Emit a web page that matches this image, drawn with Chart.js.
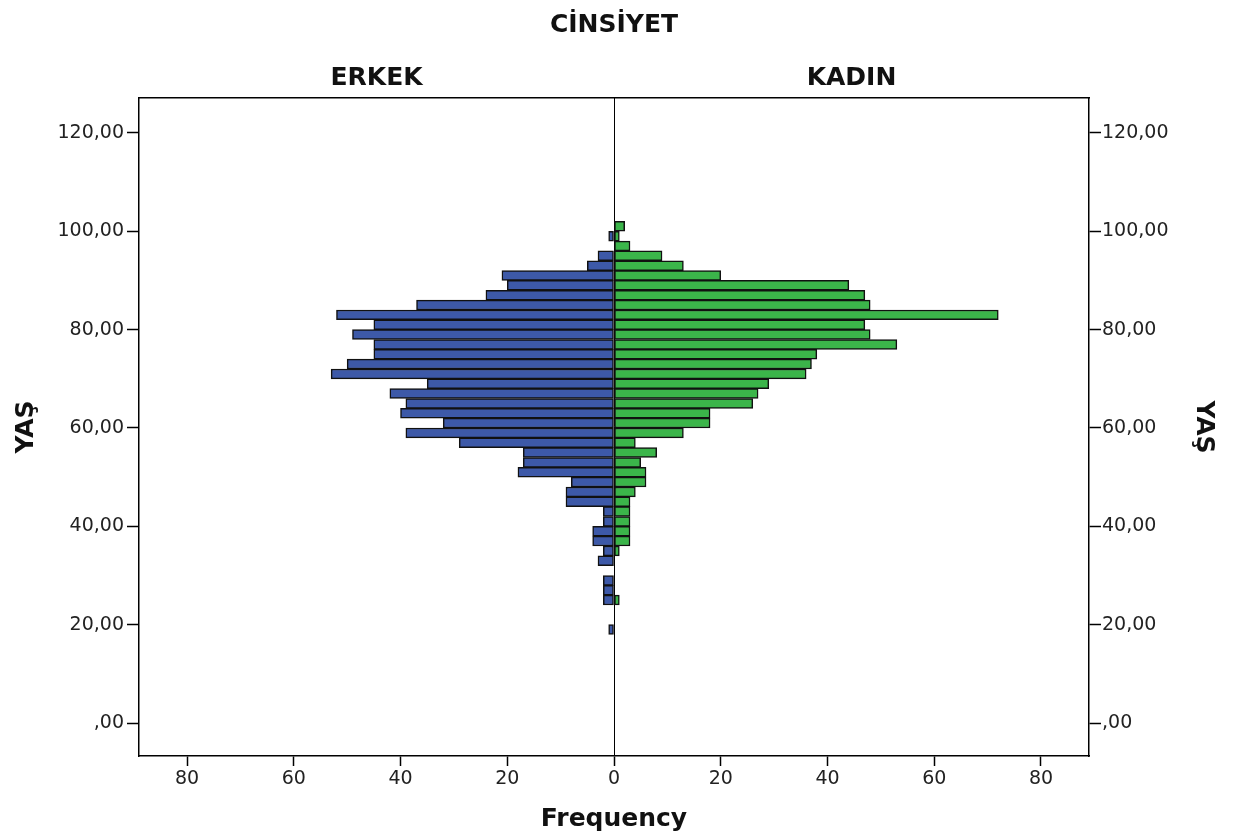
<!DOCTYPE html>
<html lang="tr">
<head>
<meta charset="utf-8">
<title>CİNSİYET - YAŞ</title>
<script src="https://cdn.jsdelivr.net/npm/chart.js@4.4.1/dist/chart.umd.min.js"></script>
<style>
  html, body { margin: 0; padding: 0; background: #fff; }
  #wrap { width: 1236px; height: 838px; }
</style>
</head>
<body>
<div id="wrap"><canvas id="piramit" width="1236" height="838"></canvas></div>
<script>
/* =========================
   VERİ
========================= */
// yaş gruplarının orta noktaları (2 yıllık gruplar, yukarıdan aşağı)
const yasGruplari = [101, 99, 97, 95, 93, 91, 89, 87, 85, 83, 81, 79, 77, 75, 73, 71, 69, 67, 65, 63, 61,
                     59, 57, 55, 53, 51, 49, 47, 45, 43, 41, 39, 37, 35, 33, 31, 29, 27, 25, 23, 21, 19];
const erkek = [0, 1, 0, 3, 5, 21, 20, 24, 37, 52, 45, 49, 45, 45, 50, 53, 35, 42, 39, 40, 32,
               39, 29, 17, 17, 18, 8, 9, 9, 2, 2, 4, 4, 2, 3, 0, 2, 2, 2, 0, 0, 1];
const kadin = [2, 1, 3, 9, 13, 20, 44, 47, 48, 72, 47, 48, 53, 38, 37, 36, 29, 27, 26, 18, 18,
               13, 4, 8, 5, 6, 6, 4, 3, 3, 3, 3, 3, 1, 0, 0, 0, 0, 1, 0, 0, 0];

const frekansTicks = [-80, -60, -40, -20, 0, 20, 40, 60, 80];
const yasTicks = [0, 20, 40, 60, 80, 100, 120];
const panelBasliklari = ["ERKEK", "KADIN"];
const panelMerkezleri = [-44.5, 44.5];

/* =========================
   GÖRÜNÜM
========================= */
const MAVI = "#3d59a8";
const YESIL = "#3bb54a";
const KENAR = "#111";
const yaziTipi = "'DejaVu Sans', sans-serif";

Chart.defaults.font.family = yaziTipi;
Chart.defaults.color = "#222";

const tickFont = { size: 19 };
const baslikFont = { size: 25, weight: "bold" };

function yasEtiketi(v) {
  return v === 0 ? ",00" : v + ",00";
}

function sabitTicks(liste) {
  return scale => {
    scale.ticks = liste.map(v => ({ value: v }));
  };
}

/* =========================
   GRAFİK
========================= */
const ctx = document.getElementById("piramit");

new Chart(ctx, {
  type: "bar",
  data: {
    datasets: [
      {
        label: "ERKEK",
        data: yasGruplari.map((yas, i) => ({ y: yas, x: erkek[i] ? -erkek[i] : null })),
        backgroundColor: MAVI,
        borderColor: KENAR,
        borderWidth: 1.5,
        borderSkipped: false,
        grouped: false,
        barPercentage: 1,
        categoryPercentage: 1
      },
      {
        label: "KADIN",
        data: yasGruplari.map((yas, i) => ({ y: yas, x: kadin[i] ? kadin[i] : null })),
        backgroundColor: YESIL,
        borderColor: KENAR,
        borderWidth: 1.5,
        borderSkipped: false,
        grouped: false,
        barPercentage: 1,
        categoryPercentage: 1
      }
    ]
  },
  options: {
    indexAxis: "y",
    responsive: false,
    animation: false,
    layout: { padding: 0 },
    plugins: {
      legend: { display: false },
      tooltip: { enabled: false }
    },
    scales: {
      x: {
        type: "linear",
        position: "bottom",
        min: -89,
        max: 89,
        afterBuildTicks: sabitTicks(frekansTicks),
        afterFit: s => { s.height = 82; },
        ticks: {
          font: tickFont,
          padding: 2,
          autoSkip: false,
          maxRotation: 0,
          callback: v => Math.abs(v)
        },
        grid: {
          drawOnChartArea: true,
          color: c => (c.tick && c.tick.value === 0 ? "#000" : "rgba(0,0,0,0)"),
          tickColor: "#000",
          tickLength: 10,
          tickWidth: 1.5,
          lineWidth: 1
        },
        border: { display: true, color: "#000", width: 1.5 },
        title: {
          display: true,
          text: "Frequency",
          font: baslikFont,
          color: "#111",
          padding: { top: 0, bottom: 4 }
        }
      },
      x2: {
        type: "linear",
        axis: "x",
        position: "top",
        min: -89,
        max: 89,
        afterBuildTicks: sabitTicks(panelMerkezleri),
        afterFit: s => { s.height = 98; },
        ticks: {
          font: baslikFont,
          color: "#111",
          padding: 5,
          autoSkip: false,
          maxRotation: 0,
          callback: (v, i) => panelBasliklari[i]
        },
        grid: { drawOnChartArea: false, drawTicks: false },
        border: { display: true, color: "#000", width: 1.5 },
        title: {
          display: true,
          text: "CİNSİYET",
          font: baslikFont,
          color: "#111",
          padding: { top: 10, bottom: 0 }
        }
      },
      y: {
        type: "linear",
        position: "left",
        min: -6.7,
        max: 127.1,
        offset: false,
        afterBuildTicks: sabitTicks(yasTicks),
        afterFit: s => { s.width = 139; },
        ticks: { font: tickFont, padding: 3, callback: yasEtiketi },
        grid: { offset: false, drawOnChartArea: false, tickColor: "#000", tickLength: 12, tickWidth: 1.5 },
        border: { display: true, color: "#000", width: 1.5 },
        title: {
          display: true,
          text: "YAŞ",
          font: baslikFont,
          color: "#111",
          padding: { top: 11, bottom: 0 }
        }
      },
      y2: {
        type: "linear",
        axis: "y",
        position: "right",
        min: -6.7,
        max: 127.1,
        offset: false,
        afterBuildTicks: sabitTicks(yasTicks),
        afterFit: s => { s.width = 147; },
        ticks: { font: tickFont, padding: 1, callback: yasEtiketi },
        grid: { offset: false, drawOnChartArea: false, tickColor: "#000", tickLength: 12, tickWidth: 1.5 },
        border: { display: true, color: "#000", width: 1.5 },
        title: {
          display: true,
          text: "YAŞ",
          font: baslikFont,
          color: "#111",
          padding: { top: 18, bottom: 0 }
        }
      }
    }
  }
});
</script>
</body>
</html>
